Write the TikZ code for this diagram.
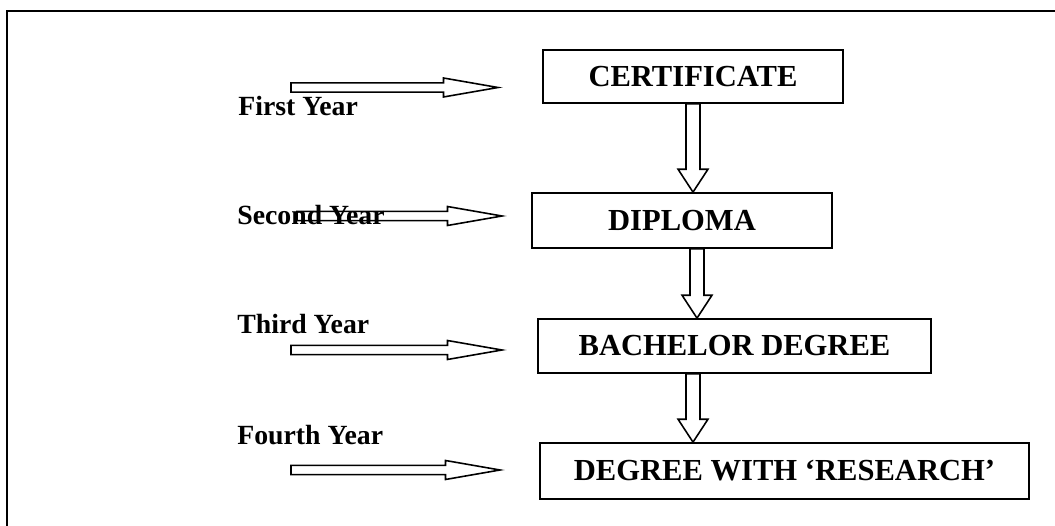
\documentclass[tikz,border=0pt]{standalone}
\usepackage{fontspec}
\setmainfont{Liberation Serif}
\usepackage{tikz}
\usetikzlibrary{positioning,calc}
\tikzstyle{stage} = [rectangle, draw=black, line width=1pt, text centered, inner sep=0pt, font=\fontsize{17.4}{20}\selectfont\bfseries]
\tikzstyle{yearlabel} = [anchor=base west, inner sep=0pt, font=\fontsize{15.8}{18}\selectfont\bfseries]
\tikzstyle{rarrow} = [line width=0.9pt, to path={let \p1=(\tikztostart), \p2=(\tikztotarget) in
    (\x1,\y1+2.6pt) -- (\x2-31pt,\y1+2.6pt) -- (\x2-31pt,\y1+5.4pt) -- (\x2,\y1)
    -- (\x2-31pt,\y1-5.4pt) -- (\x2-31pt,\y1-2.6pt) -- (\x1,\y1-2.6pt) -- cycle}]
\tikzstyle{darrow} = [line width=0.9pt, to path={let \p1=(\tikztostart), \p2=(\tikztotarget) in
    (\x1-4pt,\y1) -- (\x1-4pt,\y2+13pt) -- (\x1-8.5pt,\y2+13pt) -- (\x1,\y2)
    -- (\x1+8.5pt,\y2+13pt) -- (\x1+4pt,\y2+13pt) -- (\x1+4pt,\y1) -- cycle}]

\begin{document}
\begin{tikzpicture}[x=0.02cm, y=-0.02cm]
    \useasboundingbox (0,0) rectangle (1055,526);
    \clip (0,0) rectangle (1055,526);
    % Frame
    \draw[line width=1.1pt] (7,11) rectangle (1075,545);
    % Stages
    \node (cert) [stage, minimum width=6cm, minimum height=1.06cm] at (693,76.5) {CERTIFICATE};
    \node (dipl) [stage, minimum width=6cm, minimum height=1.1cm] at (682,220.5) {DIPLOMA};
    \node (bach) [stage, minimum width=7.86cm, minimum height=1.08cm] at (734.5,346) {BACHELOR DEGREE};
    \node (research) [stage, minimum width=9.78cm, minimum height=1.12cm] at (784.5,471) {DEGREE WITH ‘RESEARCH’};
    % Years
    \coordinate (first_s) at (291,87.5);   \coordinate (first_e) at (498,87.5);
    \coordinate (second_s) at (297,216);   \coordinate (second_e) at (502,216);
    \coordinate (third_s) at (291,350);    \coordinate (third_e) at (502,350);
    \coordinate (fourth_s) at (291,470);   \coordinate (fourth_e) at (500,470);
    \node (first) [yearlabel] at (238,116) {First Year};
    \node (second) [yearlabel] at (237,225) {Second Year};
    \node (third) [yearlabel] at (237,334) {Third Year};
    \node (fourth) [yearlabel] at (237,445) {Fourth Year};
    % Arrows
    \draw [rarrow] (first_s) to (first_e);
    \draw [rarrow] (second_s) to (second_e);
    \draw [rarrow] (third_s) to (third_e);
    \draw [rarrow] (fourth_s) to (fourth_e);
    \draw [darrow] (cert.south) to (cert.south |- dipl.north);
    \draw [darrow] ([xshift=0.08cm]dipl.south -| cert.south) to ([xshift=0.08cm]cert.south |- bach.north);
    \draw [darrow] (bach.south -| cert.south) to (cert.south |- research.north);
\end{tikzpicture}
\end{document}
